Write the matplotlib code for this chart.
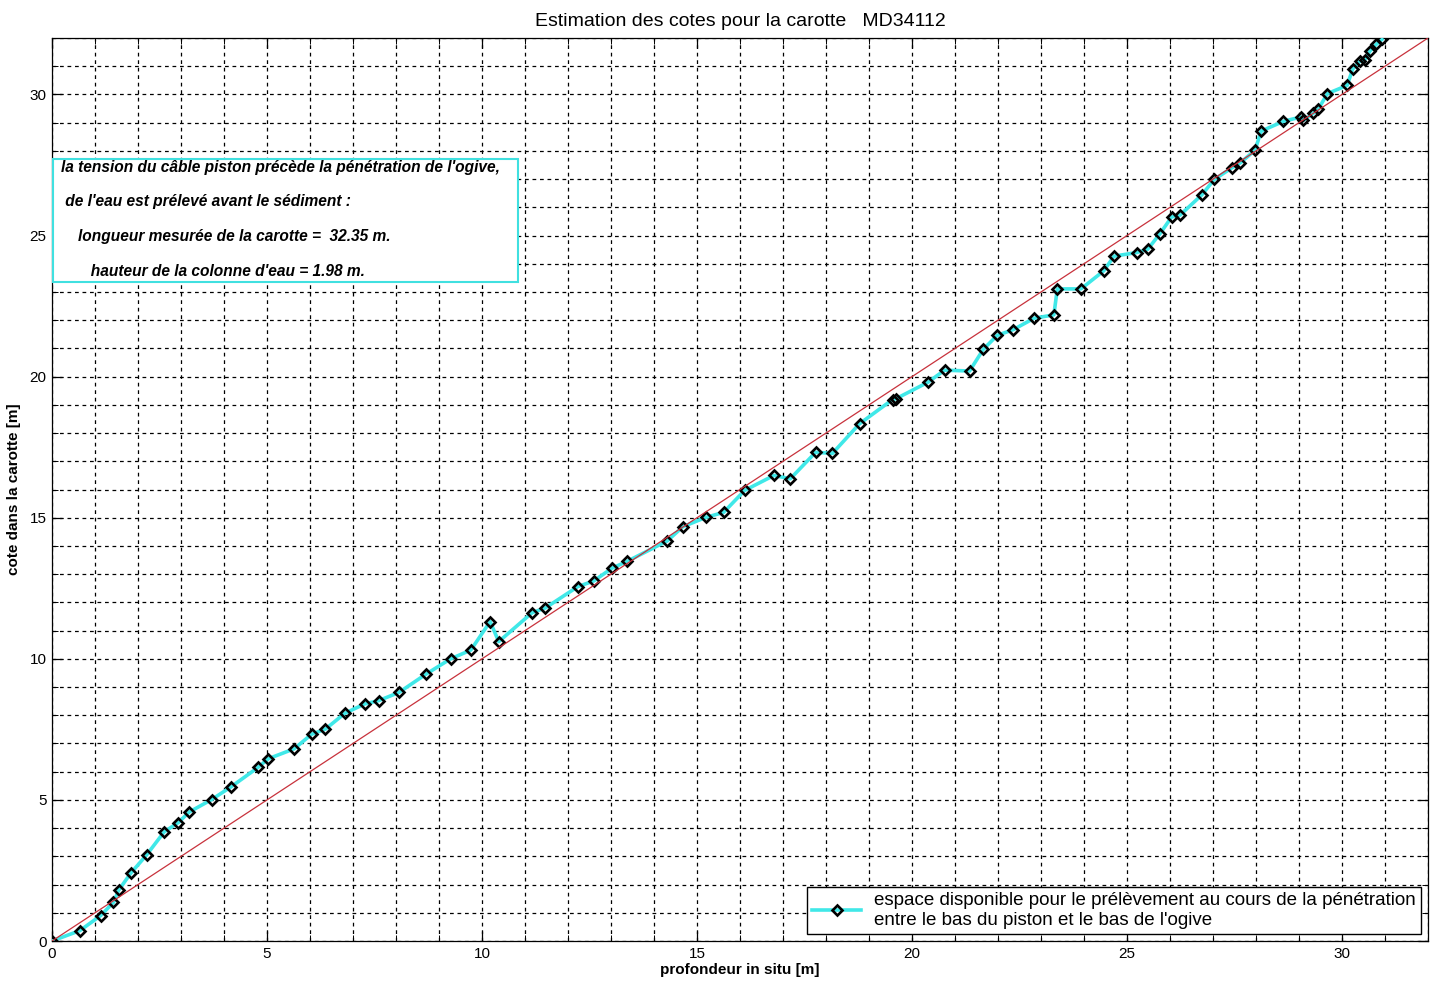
import numpy as np
import matplotlib
matplotlib.use('Agg')
import matplotlib.pyplot as plt
from matplotlib.ticker import MultipleLocator

plt.rcParams['font.family'] = ['Liberation Sans', 'DejaVu Sans']

# profondeur in situ (m) et cote correspondante dans la carotte (m)
profondeur = [0.00, 0.65, 1.13, 1.43, 1.55, 1.83, 2.20, 2.61, 2.94, 3.19,
              3.71, 4.17, 4.79, 5.03, 5.63, 6.04, 6.36, 6.81, 7.27, 7.60,
              8.07, 8.70, 9.27, 9.74, 10.19, 10.39, 11.17, 11.47, 12.23, 12.60,
              13.02, 13.37, 14.31, 14.67, 15.20, 15.62, 16.11, 16.79, 17.17, 17.76,
              18.15, 18.78, 19.55, 19.63, 20.37, 20.76, 21.34, 21.66, 21.98, 22.36,
              22.84, 23.30, 23.38, 23.93, 24.46, 24.70, 25.23, 25.48, 25.76, 26.04,
              26.23, 26.74, 27.03, 27.44, 27.64, 27.98, 28.12, 28.64, 29.04, 29.10,
              29.33, 29.45, 29.66, 30.12, 30.25, 30.41, 30.53, 30.65, 30.80, 30.93]
cote = [0.00, 0.37, 0.90, 1.37, 1.80, 2.40, 3.05, 3.87, 4.20, 4.57,
        5.01, 5.47, 6.15, 6.46, 6.81, 7.33, 7.51, 8.07, 8.40, 8.52,
        8.81, 9.46, 10.00, 10.31, 11.32, 10.61, 11.64, 11.80, 12.56, 12.76,
        13.21, 13.45, 14.18, 14.68, 15.01, 15.19, 15.97, 16.50, 16.38, 17.32,
        17.28, 18.33, 19.19, 19.22, 19.80, 20.23, 20.20, 20.97, 21.46, 21.67,
        22.07, 22.19, 23.11, 23.11, 23.75, 24.27, 24.40, 24.51, 25.05, 25.66,
        25.72, 26.44, 26.99, 27.40, 27.58, 28.03, 28.70, 29.05, 29.20, 29.08,
        29.33, 29.48, 30.03, 30.32, 30.90, 31.17, 31.22, 31.54, 31.78, 31.95]
diagonale = [0, 32]

longueur_carotte = 32.35
hauteur_eau = 1.98

fig = plt.figure(figsize=(14.36, 9.83), dpi=100)
ax = fig.add_axes([0.0362, 0.0427, 0.9582, 0.9186])

ax.plot(profondeur, cote, color='#40e8e8', linewidth=2.6, marker='D',
        markersize=5, markeredgecolor='black', markerfacecolor='none',
        markeredgewidth=1.9, zorder=3,
        label="espace disponible pour le prélèvement au cours de la pénétration\n"
              "entre le bas du piston et le bas de l'ogive")
ax.plot(diagonale, diagonale, color='#c8323c', linewidth=0.9, zorder=4)

ax.set_xlim(0, 32)
ax.set_ylim(0, 32)
ax.xaxis.set_major_locator(MultipleLocator(5))
ax.yaxis.set_major_locator(MultipleLocator(5))
ax.xaxis.set_minor_locator(MultipleLocator(1))
ax.yaxis.set_minor_locator(MultipleLocator(1))
ax.tick_params(which='both', direction='in', top=True, right=True, labelsize=11)
ax.tick_params(which='major', length=7, width=0.9, pad=4)
ax.tick_params(which='minor', length=4, width=0.7)
ax.grid(which='both', color='black', linestyle=(0, (3, 3)), linewidth=0.9)
for s in ax.spines.values():
    s.set_linewidth(0.9)

ax.set_title('Estimation des cotes pour la carotte   MD34112', fontsize=14, pad=9)
ax.set_xlabel('profondeur in situ [m]', fontsize=11, fontweight='bold', labelpad=2)
ax.set_ylabel('cote dans la carotte [m]', fontsize=11, fontweight='bold', labelpad=6)

# cadre d'information en haut à gauche
lignes = ["la tension du câble piston précède la pénétration de l'ogive,",
          " de l'eau est prélevé avant le sédiment :",
          f"    longueur mesurée de la carotte =  {longueur_carotte:.2f} m.",
          f"       hauteur de la colonne d'eau = {hauteur_eau:.2f} m."]
ax.add_patch(plt.Rectangle((0.02, 23.35), 10.81, 4.38, facecolor='white',
                           edgecolor='#40e0e0', linewidth=1.5, zorder=5))
for i, txt in enumerate(lignes):
    ax.text(0.2, 27.42 - i * 1.23, txt, fontsize=11.2, fontweight='bold',
            fontstyle='italic', va='center', ha='left', zorder=6)

leg = ax.legend(loc='lower right', fontsize=13.5, fancybox=False,
                edgecolor='black', framealpha=1, borderaxespad=0.35,
                handlelength=2.6, handletextpad=0.7, borderpad=0.3,
                labelspacing=0.1)
leg.get_frame().set_linewidth(1.0)
leg.set_zorder(6)

fig.savefig('out.png', dpi=100)
